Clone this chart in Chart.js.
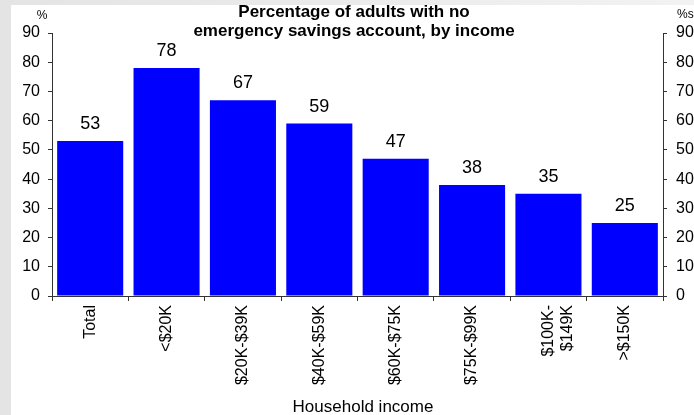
<!DOCTYPE html>
<html>
<head>
<meta charset="utf-8">
<script src="https://cdn.jsdelivr.net/npm/chart.js@4"></script>
<style>
  html, body { margin: 0; padding: 0; }
  body { width: 694px; height: 415px; background: linear-gradient(90deg, #e4e4e4, #f2f2f2); position: relative; overflow: hidden; }
  #panel { position: absolute; left: 11px; top: 5px; width: 683px; height: 410px; background: #fff; }
</style>
</head>
<body>
<div id="panel"><canvas id="chart"></canvas></div>
<script>
// Percentage of adults with no emergency savings account, by income
const categories = ['Total', '<$20K', '$20K-$39K', '$40K-$59K', '$60K-$75K', '$75K-$99K', ['$100K-', '$149K'], '>$150K'];
const values = [53, 78, 67, 59, 47, 38, 35, 25];
const titleLines = ['Percentage of adults with no', 'emergency savings account, by income'];
const xTitle = 'Household income';
const FONT = '"Liberation Sans", Arial, sans-serif';

const labelsPlugin = {
  id: 'labels',
  afterDraw(chart) {
    const ctx = chart.ctx;
    const area = chart.chartArea;
    ctx.save();
    ctx.fillStyle = '#000';
    ctx.textAlign = 'center';
    ctx.textBaseline = 'middle';

    // title, sits over the top of the plot
    ctx.font = 'bold 17px ' + FONT;
    ctx.fillText(titleLines[0], 343, 7);
    ctx.fillText(titleLines[1], 343, 26);

    // value labels above bars
    ctx.font = '18px ' + FONT;
    chart.getDatasetMeta(0).data.forEach((bar, i) => {
      ctx.fillText(String(values[i]), bar.x, bar.y - 17);
    });

    // units
    ctx.font = '12px ' + FONT;
    ctx.fillText('%', 31, 11);
    ctx.textAlign = 'left';
    ctx.fillText('%s', 666, 10);

    // x axis title
    ctx.textAlign = 'center';
    ctx.font = '17px ' + FONT;
    ctx.fillText(xTitle, 352, 402);
    ctx.restore();
  }
};

const axisColor = '#333';

new Chart(document.getElementById('chart'), {
  type: 'bar',
  data: {
    labels: categories,
    datasets: [{
      data: values,
      backgroundColor: '#0000ff',
      categoryPercentage: 1,
      barPercentage: 0.865,
      yAxisID: 'y'
    }]
  },
  options: {
    responsive: true,
    maintainAspectRatio: false,
    animation: false,
    layout: { padding: { top: 28, left: 0, right: 0, bottom: 0 } },
    plugins: { legend: { display: false }, tooltip: { enabled: false } },
    scales: {
      x: {
        afterFit: s => { s.height = 119; },
        grid: { offset: true, drawOnChartArea: false, drawTicks: true, tickLength: 5, color: axisColor },
        border: { color: axisColor },
        ticks: {
          autoSkip: false, minRotation: 90, maxRotation: 90, padding: 4,
          color: '#000', font: { family: FONT, size: 16 }
        }
      },
      y: {
        position: 'left',
        min: 0, max: 90,
        afterFit: s => { s.width = 41; },
        grid: { drawOnChartArea: false, drawTicks: true, tickLength: 4, color: axisColor },
        border: { color: axisColor },
        ticks: { stepSize: 10, padding: 8, color: '#000', font: { family: FONT, size: 16 } }
      },
      y2: {
        position: 'right',
        display: true,
        min: 0, max: 90,
        afterFit: s => { s.width = 31; },
        grid: { drawOnChartArea: false, drawTicks: true, tickLength: 4, color: axisColor },
        border: { color: axisColor },
        ticks: { stepSize: 10, padding: 9, color: '#000', font: { family: FONT, size: 16 } }
      }
    }
  },
  plugins: [labelsPlugin]
});
</script>
</body>
</html>
